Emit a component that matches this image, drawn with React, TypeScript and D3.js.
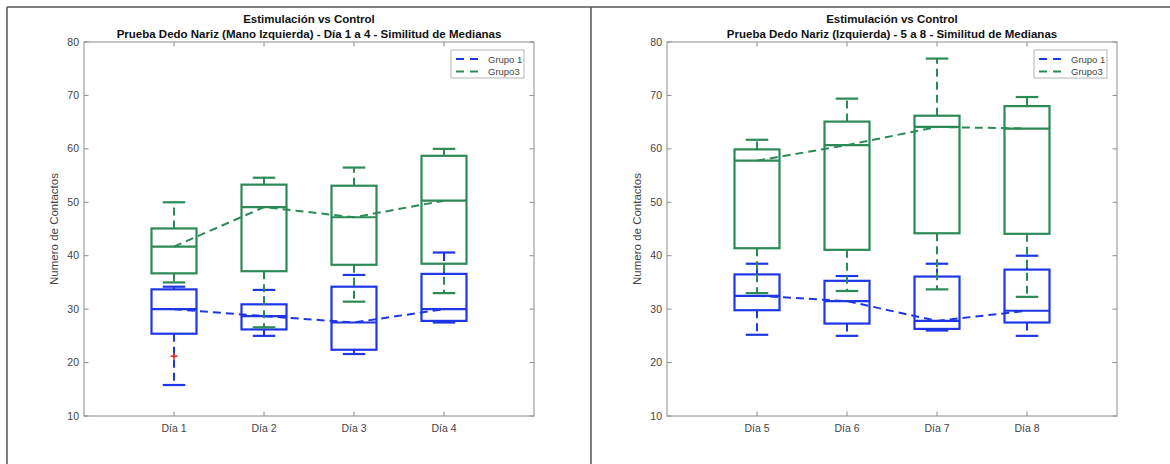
import React from "react";
import * as d3 from "d3";

const W = 1170;
const H = 464;

const diasA = ["Día 1", "Día 2", "Día 3", "Día 4"];
const diasB = ["Día 5", "Día 6", "Día 7", "Día 8"];
const yTickValues = [10, 20, 30, 40, 50, 60, 70, 80];
const tituloPrincipal = "Estimulación vs Control";
const subtituloA = "Prueba Dedo Nariz (Mano Izquierda) - Día 1 a 4 - Similitud de Medianas";
const subtituloB = "Prueba Dedo Nariz (Izquierda) - 5 a 8 - Similitud de Medianas";
const etiquetaY = "Numero de Contactos";
const leyenda = ["Grupo 1", "Grupo3"];

// [lower whisker, Q1, median, Q3, upper whisker]
const grupo1DiasA = [
  [15.8, 25.4, 30.0, 33.7, 34.2],
  [25.0, 26.2, 28.7, 30.9, 33.6],
  [21.6, 22.4, 27.5, 34.2, 36.4],
  [27.5, 27.8, 30.0, 36.6, 40.6],
];
const grupo3DiasA = [
  [35.0, 36.7, 41.7, 45.1, 50.0],
  [26.6, 37.1, 49.1, 53.3, 54.6],
  [31.4, 38.3, 47.2, 53.1, 56.5],
  [33.0, 38.5, 50.3, 58.7, 60.0],
];
const grupo1DiasB = [
  [25.2, 29.8, 32.5, 36.5, 38.5],
  [25.0, 27.3, 31.5, 35.3, 36.2],
  [26.0, 26.3, 27.8, 36.1, 38.5],
  [25.0, 27.5, 29.7, 37.4, 40.0],
];
const grupo3DiasB = [
  [33.0, 41.4, 57.8, 59.9, 61.7],
  [33.4, 41.1, 60.7, 65.1, 69.4],
  [33.7, 44.2, 64.1, 66.2, 76.9],
  [32.3, 44.1, 63.8, 68.0, 69.7],
];
// [day index, value]
const atipicosGrupo1A = [[0, 21.2]];
const atipicosGrupo1B: number[][] = [];

const BLUE = "#1f36e6";
const GREEN = "#2b8a55";
const AXIS = "#8c8c8c";
const TXT = "#444";
const FONT = "'Liberation Sans', Arial, Helvetica, sans-serif";

const PLOT_TOP = 42;
const PLOT_BOTTOM = 416;
const PLOT_W = 450;

function Boxes({ stats, x, y, color }: any) {
  const hw = 0.25;
  const cw = 0.125;
  return (
    <g>
      {stats.map((s: number[], i: number) => {
        const c = i + 1;
        const [lo, q1, med, q3, hi] = s;
        return (
          <g key={i} stroke={color} fill="none">
            <line x1={x(c)} x2={x(c)} y1={y(q3)} y2={y(hi)} strokeWidth={2} strokeDasharray="8,5" />
            <line x1={x(c)} x2={x(c)} y1={y(q1)} y2={y(lo)} strokeWidth={2} strokeDasharray="8,5" />
            <line x1={x(c - cw)} x2={x(c + cw)} y1={y(hi)} y2={y(hi)} strokeWidth={2.2} />
            <line x1={x(c - cw)} x2={x(c + cw)} y1={y(lo)} y2={y(lo)} strokeWidth={2.2} />
            <rect x={x(c - hw)} width={x(c + hw) - x(c - hw)} y={y(q3)} height={y(q1) - y(q3)} strokeWidth={2.2} />
            <line x1={x(c - hw)} x2={x(c + hw)} y1={y(med)} y2={y(med)} strokeWidth={2.2} />
          </g>
        );
      })}
    </g>
  );
}

function Panel({ left, dias, g1, g3, out, subtitulo }: any) {
  const x = d3.scaleLinear().domain([0, 5]).range([left, left + PLOT_W]);
  const y = d3.scaleLinear().domain([10, 80]).range([PLOT_BOTTOM, PLOT_TOP]);
  const line = d3
    .line<number[]>()
    .x((_, i) => x(i + 1))
    .y((d) => y(d[2]));
  const cx = left + PLOT_W / 2;
  const tk = 4.5;
  const legX = left + PLOT_W - 83;
  const legY = 50;
  return (
    <g>
      {/* titles */}
      <text x={cx} y={23} textAnchor="middle" fontFamily={FONT} fontWeight="bold" fontSize={11.5} fill="#111">
        {tituloPrincipal}
      </text>
      <text x={cx} y={38} textAnchor="middle" fontFamily={FONT} fontWeight="bold" fontSize={11.5} fill="#111">
        {subtitulo}
      </text>
      {/* axes frame */}
      <rect x={left} y={PLOT_TOP} width={PLOT_W} height={PLOT_BOTTOM - PLOT_TOP} fill="none" stroke={AXIS} strokeWidth={1} />
      {yTickValues.map((v) => (
        <g key={v}>
          <line x1={left} x2={left + tk} y1={y(v)} y2={y(v)} stroke={AXIS} />
          <line x1={left + PLOT_W} x2={left + PLOT_W - tk} y1={y(v)} y2={y(v)} stroke={AXIS} />
          <text x={left - 5} y={y(v) + 3.5} textAnchor="end" fontFamily={FONT} fontSize={10.5} fill={TXT}>
            {v}
          </text>
        </g>
      ))}
      {dias.map((d: string, i: number) => (
        <g key={d}>
          <line x1={x(i + 1)} x2={x(i + 1)} y1={PLOT_BOTTOM} y2={PLOT_BOTTOM - tk} stroke={AXIS} />
          <line x1={x(i + 1)} x2={x(i + 1)} y1={PLOT_TOP} y2={PLOT_TOP + tk} stroke={AXIS} />
          <text x={x(i + 1)} y={PLOT_BOTTOM + 16} textAnchor="middle" fontFamily={FONT} fontSize={10.5} fill={TXT}>
            {d}
          </text>
        </g>
      ))}
      <text
        transform={`translate(${left - 26},${(PLOT_TOP + PLOT_BOTTOM) / 2}) rotate(-90)`}
        textAnchor="middle"
        fontFamily={FONT}
        fontSize={11.5}
        fill={TXT}
      >
        {etiquetaY}
      </text>
      {/* boxes */}
      <Boxes stats={g1} x={x} y={y} color={BLUE} />
      <Boxes stats={g3} x={x} y={y} color={GREEN} />
      {/* median lines */}
      <path d={line(g1) || ""} fill="none" stroke={BLUE} strokeWidth={2} strokeDasharray="8,5" />
      <path d={line(g3) || ""} fill="none" stroke={GREEN} strokeWidth={2} strokeDasharray="8,5" />
      {/* outliers */}
      {out.map((o: number[], i: number) => (
        <g key={i} stroke="#e8262a" strokeWidth={1.6}>
          <line x1={x(o[0] + 1) - 3.5} x2={x(o[0] + 1) + 3.5} y1={y(o[1])} y2={y(o[1])} />
          <line x1={x(o[0] + 1)} x2={x(o[0] + 1)} y1={y(o[1]) - 3.5} y2={y(o[1]) + 3.5} />
        </g>
      ))}
      {/* legend */}
      <rect x={legX} y={legY} width={73} height={28} fill="#fff" stroke="#b5b5b5" strokeWidth={1} />
      {leyenda.map((l, i) => (
        <g key={l}>
          <line
            x1={legX + 5}
            x2={legX + 28}
            y1={legY + 9 + i * 12.5}
            y2={legY + 9 + i * 12.5}
            stroke={i === 0 ? BLUE : GREEN}
            strokeWidth={2}
            strokeDasharray="8,6"
          />
          <text x={legX + 37} y={legY + 12.5 + i * 12.5} fontFamily={FONT} fontSize={9.5} fill={TXT}>
            {l}
          </text>
        </g>
      ))}
    </g>
  );
}

export default function App() {
  return (
    <div style={{ position: "absolute", left: 0, top: 0, width: W, height: H, background: "#fff" }}>
      <svg width={W} height={H} style={{ display: "block" }}>
        <rect x={0} y={0} width={W} height={H} fill="#fff" />
        {/* panel borders */}
        <line x1={7} x2={W} y1={7} y2={7} stroke="#555" strokeWidth={1.5} />
        <line x1={7} x2={7} y1={7} y2={H} stroke="#555" strokeWidth={1.5} />
        <line x1={591} x2={591} y1={7} y2={H} stroke="#555" strokeWidth={1.5} />
        <Panel left={84} dias={diasA} g1={grupo1DiasA} g3={grupo3DiasA} out={atipicosGrupo1A} subtitulo={subtituloA} />
        <Panel left={667} dias={diasB} g1={grupo1DiasB} g3={grupo3DiasB} out={atipicosGrupo1B} subtitulo={subtituloB} />
      </svg>
    </div>
  );
}
